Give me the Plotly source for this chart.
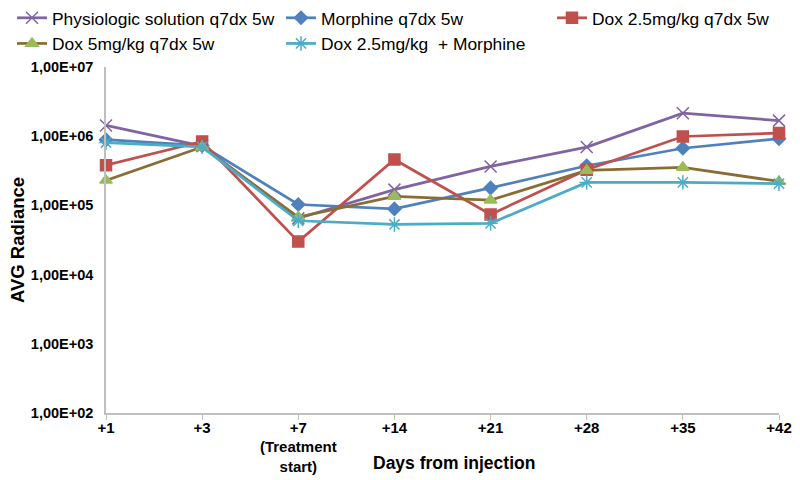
import plotly.graph_objects as go

days = ["+1", "+3", "+7<br>(Treatment<br>start)", "+14", "+21", "+28", "+35", "+42"]
series_names = ["Physiologic solution q7dx 5w", "Morphine q7dx 5w", "Dox 2.5mg/kg q7dx 5w",
                "Dox 5mg/kg q7dx 5w", "Dox 2.5mg/kg  + Morphine"]
physio = [1.43e6, 7.2e5, 6.5e4, 1.69e5, 3.66e5, 6.97e5, 2.15e6, 1.68e6]
morphine = [8.9e5, 7.3e5, 1.03e5, 8.9e4, 1.79e5, 3.74e5, 6.7e5, 9.2e5]
dox25 = [3.8e5, 8.4e5, 3.0e4, 4.6e5, 7.4e4, 3.28e5, 9.9e5, 1.11e6]
dox5 = [2.3e5, 7.0e5, 6.8e4, 1.35e5, 1.19e5, 3.2e5, 3.54e5, 2.22e5]
dox25_morph = [8.1e5, 7.0e5, 6.0e4, 5.3e4, 5.5e4, 2.15e5, 2.15e5, 2.06e5]
y_tickvals = [1e2, 1e3, 1e4, 1e5, 1e6, 1e7]
y_ticktext = ["1,00E+02", "1,00E+03", "1,00E+04", "1,00E+05", "1,00E+06", "1,00E+07"]
y_title = "AVG Radiance"
x_title = "Days from injection"

styles = [
    dict(line="#8064A2", mcolor="#8064A2", symbol="x-thin-open", size=12, legend="legend"),
    dict(line="#4F81BD", mcolor="#4F81BD", symbol="diamond", size=10, legend="legend2"),
    dict(line="#C0504D", mcolor="#C0504D", symbol="square", size=11, legend="legend3"),
    dict(line="#8A6D35", mcolor="#9BBB59", symbol="triangle-up", size=11, legend="legend"),
    dict(line="#4BACC6", mcolor="#4BACC6", symbol="asterisk-open", size=12, legend="legend2"),
]

fig = go.Figure()
for name, vals, st in zip(series_names, [physio, morphine, dox25, dox5, dox25_morph], styles):
    fig.add_trace(go.Scatter(
        x=days, y=vals, name=name, mode="lines+markers", legend=st["legend"],
        line=dict(color=st["line"], width=2.75),
        marker=dict(symbol=st["symbol"], size=st["size"], color=st["mcolor"],
                    line=dict(color=st["mcolor"], width=1.5)),
        cliponaxis=False,
    ))

leg_common = dict(orientation="v", xref="container", y=1.006, yref="container",
                  xanchor="left", yanchor="top", bgcolor="rgba(0,0,0,0)",
                  font=dict(size=17.4), itemwidth=30, tracegroupgap=0)
fig.update_layout(
    width=800, height=480,
    margin=dict(l=106, r=21, t=67, b=67, autoexpand=False),
    paper_bgcolor="white", plot_bgcolor="white",
    font=dict(family="Arial, Liberation Sans, sans-serif", color="black"),
    legend=dict(x=12 / 800, **leg_common),
    legend2=dict(x=281 / 800, **leg_common),
    legend3=dict(x=552 / 800, **leg_common),
    showlegend=True,
)
fig.update_xaxes(
    type="category", range=[0, 7],
    showline=True, linecolor="#BFBFBF", linewidth=1.5,
    ticks="outside", ticklen=5, tickcolor="#BFBFBF",
    showgrid=False, zeroline=False, ticklabelstandoff=-5,
    tickfont=dict(size=15, weight="bold"),
)
fig.update_yaxes(
    type="log", range=[2, 7],
    tickvals=y_tickvals, ticktext=y_ticktext,
    showline=True, linecolor="#BFBFBF", linewidth=1.5,
    showgrid=False, zeroline=False,
    ticks="outside", ticklen=8, tickcolor="rgba(0,0,0,0)",
    tickfont=dict(size=14.5, weight="bold"),
)
fig.add_annotation(text=y_title, x=(17 - 106) / 673, xref="paper", y=0.5, yref="paper",
                   xanchor="center", yanchor="middle", textangle=-90, showarrow=False,
                   font=dict(size=18.5, weight="bold"))
fig.add_annotation(text=x_title, x=0.517, xref="paper", y=0, yref="paper",
                   yshift=-38, yanchor="top", showarrow=False,
                   font=dict(size=17.5, weight="bold"))
fig.write_html("out.html", config={"displayModeBar": False},
               post_script="document.body.style.margin='0';")
